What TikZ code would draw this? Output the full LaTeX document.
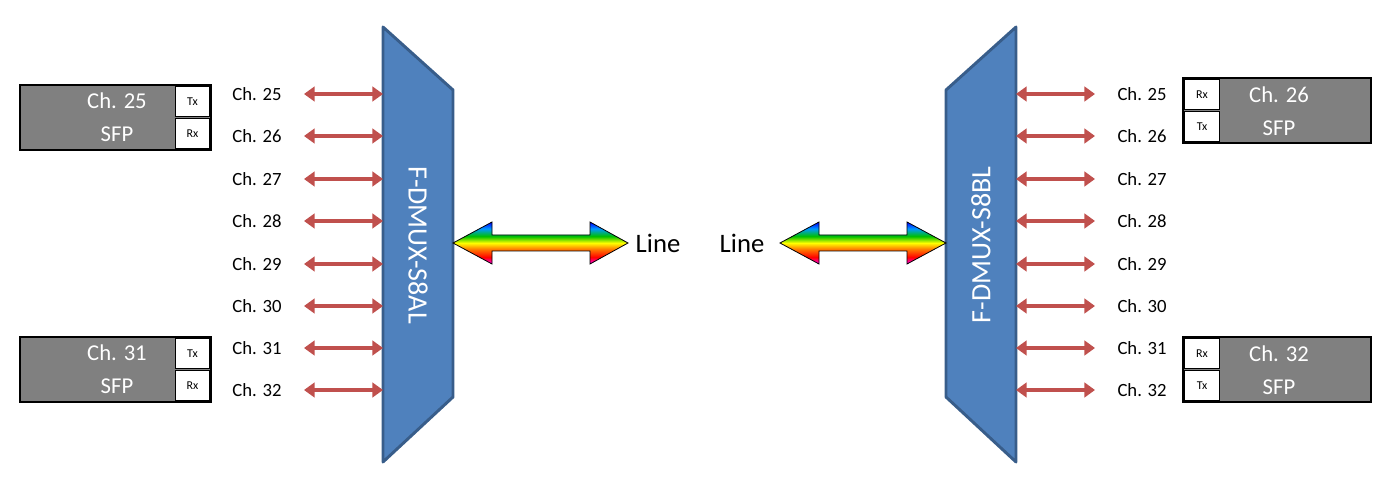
\documentclass[tikz,border=0pt]{standalone}
\usepackage{fontspec}
\setmainfont{Carlito}
\usetikzlibrary{arrows.meta}
\pgfdeclareverticalshading{rainbow}{100bp}{color(0bp)=(magenta); color(25bp)=(magenta); color(33bp)=(red); color(43bp)=(orange); color(50bp)=(yellow); color(58bp)=(green!75!black); color(67bp)=(cyan!60!blue); color(75bp)=(blue); color(100bp)=(blue)}
\definecolor{mux}{RGB}{79,129,189}
\definecolor{muxedge}{RGB}{56,93,138}
\definecolor{redarr}{RGB}{192,80,77}
\definecolor{sfpgray}{RGB}{128,128,128}
\tikzset{
 mux/.style={fill=mux,draw=muxedge,line width=2.2pt,line join=round},
 chlabel/.style={font=\fontsize{14}{14}\selectfont,inner sep=0pt},
 chan/.style={draw=redarr,line width=3.4pt,{Triangle[width=11pt,length=8pt]}-{Triangle[width=11pt,length=8pt]},shorten <=0pt},
 muxtext/.style={text=white,font=\fontsize{21}{21}\selectfont},
 sfpbody/.style={fill=sfpgray,draw=black,line width=2pt},
 port/.style={fill=white,draw=black,line width=1pt,font=\fontsize{9}{9}\selectfont,inner sep=0pt},
 sfptext/.style={text=white,font=\fontsize{17}{17}\selectfont},
 rainbowarr/.style={shading=rainbow,draw=black,line width=0.6pt,line join=miter},
 linelabel/.style={font=\fontsize{20}{20}\selectfont}
}
\begin{document}
\begin{tikzpicture}[x=0.75pt,y=-0.75pt]
\useasboundingbox (0,0) rectangle (1400,495);
% muxes
\draw[mux] (383,27) -- (453,90) -- (453,397) -- (383,462) -- cycle;
\node[muxtext,rotate=-90] (lmux) at (418,245) {F-DMUX-S8AL};
\draw[mux] (1016,27) -- (946,90) -- (946,397) -- (1016,462) -- cycle;
\node[muxtext,rotate=90] (rmux) at (981,245) {F-DMUX-S8BL};
% channels
\foreach \c/\y in {25/94,26/136,27/179,28/221,29/264,30/306,31/348,32/390}{
 \node[chlabel] (lc\c) at (257,\y) {Ch. \c};
 \coordinate (la\c) at (304,\y); \coordinate (lb\c) at (383,\y);
 \draw[chan] (la\c) -- (lb\c);
 \node[chlabel] (rc\c) at (1142,\y) {Ch. \c};
 \coordinate (ra\c) at (1016,\y); \coordinate (rb\c) at (1095,\y);
 \draw[chan] (ra\c) -- (rb\c);
}
% left SFPs
\foreach \n/\y in {25/85,31/337}{
 \draw[sfpbody] (20,\y) rectangle (211,\y+65);
 \node[port,minimum width=26pt,minimum height=22.5pt] (tx\n) at (192.5,\y+16.5) {Tx};
 \node[port,minimum width=26pt,minimum height=22.5pt] (rx\n) at (192.5,\y+48.5) {Rx};
 \node[sfptext] (sa\n) at (117,\y+16) {Ch. \n};
 \node[sfptext] (sb\n) at (117,\y+49) {SFP};
}
% right SFPs
\foreach \n/\y in {26/78,32/337}{
 \draw[sfpbody] (1183,\y) rectangle (1371,\y+65);
 \node[port,minimum width=26pt,minimum height=22.5pt] (rrx\n) at (1202,\y+16.5) {Rx};
 \node[port,minimum width=26pt,minimum height=22.5pt] (rtx\n) at (1202,\y+48.5) {Tx};
 \node[sfptext] (rsa\n) at (1279,\y+17) {Ch. \n};
 \node[sfptext] (rsb\n) at (1279,\y+50) {SFP};
}
% rainbow arrows
\draw[rainbowarr] (453,243) -- (492,222) -- (492,235) -- (590,235) -- (590,222) -- (628,243)
 -- (590,264) -- (590,251) -- (492,251) -- (492,264) -- cycle;
\node[linelabel] (ll) at (658,243) {Line};
\draw[rainbowarr] (780,243) -- (819,222) -- (819,235) -- (907,235) -- (907,222) -- (946,243)
 -- (907,264) -- (907,251) -- (819,251) -- (819,264) -- cycle;
\node[linelabel] (rl) at (742,243) {Line};
\end{tikzpicture}
\end{document}
